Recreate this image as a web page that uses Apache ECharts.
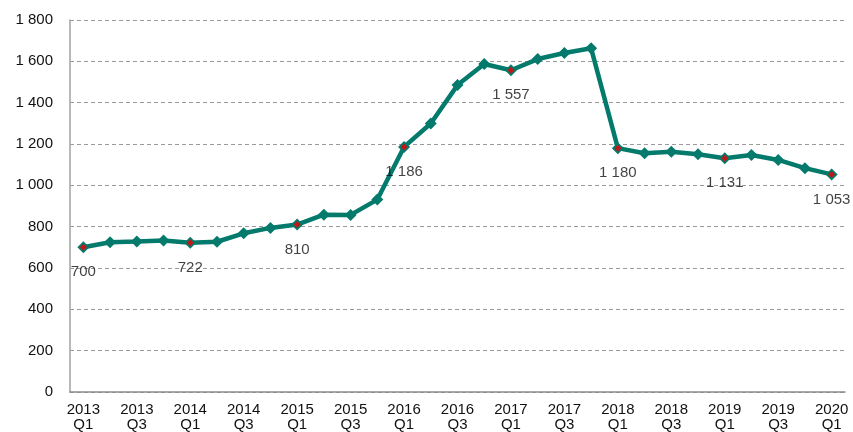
<!DOCTYPE html>
<html>
<head>
<meta charset="utf-8">
<script src="https://cdn.jsdelivr.net/npm/echarts@6/dist/echarts.min.js"></script>
<style>
  html, body { margin: 0; padding: 0; background: #fff; }
  #chart { width: 853px; height: 432px; }
</style>
</head>
<body>
<div id="chart"></div>
<script>
// Quarterly series, 2013 Q1 – 2020 Q1
const quarters = [
  '2013\nQ1', '2013\nQ2', '2013\nQ3', '2013\nQ4',
  '2014\nQ1', '2014\nQ2', '2014\nQ3', '2014\nQ4',
  '2015\nQ1', '2015\nQ2', '2015\nQ3', '2015\nQ4',
  '2016\nQ1', '2016\nQ2', '2016\nQ3', '2016\nQ4',
  '2017\nQ1', '2017\nQ2', '2017\nQ3', '2017\nQ4',
  '2018\nQ1', '2018\nQ2', '2018\nQ3', '2018\nQ4',
  '2019\nQ1', '2019\nQ2', '2019\nQ3', '2019\nQ4',
  '2020\nQ1'
];

const values = [
  700, 725, 728, 733,
  722, 727, 768, 794,
  810, 858, 857, 931,
  1186, 1299, 1485, 1587,
  1557, 1611, 1640, 1663,
  1180, 1155, 1163, 1150,
  1131, 1147, 1123, 1083,
  1053
];

// Q1 points that carry a value label
const labelledIdx = [0, 4, 8, 12, 16, 20, 24, 28];

const yTicks = { min: 0, max: 1800, step: 200 };

const fmt = v => String(Math.round(v)).replace(/\B(?=(\d{3})+(?!\d))/g, ' ');

const highlight = values.map((v, i) => labelledIdx.includes(i) ? v : null);

const font = 'Liberation Sans, Arial, sans-serif';
const textColor = '#111';

const chart = echarts.init(document.getElementById('chart'), null, { renderer: 'canvas' });

chart.setOption({
  animation: false,
  backgroundColor: '#ffffff',
  grid: { left: 70, right: 8, top: 20, bottom: 38, containLabel: false },
  xAxis: {
    type: 'category',
    data: quarters,
    boundaryGap: true,
    axisLine: { show: true, lineStyle: { color: '#8c8c8c', width: 1.5 } },
    axisTick: { show: false },
    axisLabel: {
      interval: 1,
      color: textColor,
      fontFamily: font,
      fontSize: 15,
      lineHeight: 15,
      margin: 10
    },
    splitLine: { show: false }
  },
  yAxis: {
    type: 'value',
    min: yTicks.min,
    max: yTicks.max,
    interval: yTicks.step,
    axisLine: { show: true, lineStyle: { color: '#a0a0a0', width: 1.5 } },
    axisTick: { show: false },
    axisLabel: {
      color: textColor,
      fontFamily: font,
      fontSize: 15,
      margin: 17,
      formatter: fmt
    },
    splitLine: { show: true, lineStyle: { color: '#9a9a9a', type: [4, 3], width: 1 } }
  },
  series: [
    {
      type: 'line',
      data: values,
      symbol: 'diamond',
      symbolSize: 12,
      showAllSymbol: true,
      lineStyle: { color: '#037A6C', width: 4.5 },
      itemStyle: { color: '#037A6C' },
      z: 2
    },
    {
      type: 'scatter',
      data: highlight,
      symbol: 'diamond',
      symbolSize: 7,
      itemStyle: { color: '#f00000' },
      label: {
        show: true,
        position: 'bottom',
        distance: 14,
        color: textColor,
        fontFamily: font,
        fontSize: 15,
        formatter: p => fmt(p.value)
      },
      z: 3
    }
  ]
});
</script>
</body>
</html>
